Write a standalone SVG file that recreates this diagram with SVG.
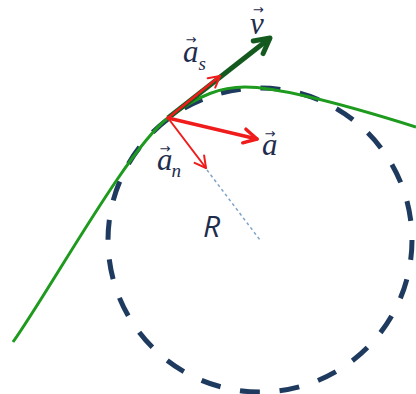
<svg xmlns="http://www.w3.org/2000/svg" width="416" height="394" viewBox="0 0 416 394">
<style>
.lbl{font-family:"Liberation Serif","DejaVu Serif",serif;font-style:italic;fill:#1f2d4d;font-size:31px}
.ar{font-style:normal;font-size:13px;font-family:"DejaVu Sans","Liberation Sans",sans-serif}
.sub{font-size:19px}
.red{fill:none;stroke:#f01c1c;stroke-linecap:round;stroke-linejoin:round}
</style>
<defs>
<marker id="hThin" markerUnits="userSpaceOnUse" markerWidth="30" markerHeight="30" viewBox="-15 -15 30 30" refX="0" refY="0" orient="auto" overflow="visible"><path d="M-11,-6 L0,0 L-11,6" fill="none" stroke="#f01c1c" stroke-width="2" stroke-linecap="round" stroke-linejoin="round"/></marker>
<marker id="hThick" markerUnits="userSpaceOnUse" markerWidth="30" markerHeight="30" viewBox="-15 -15 30 30" refX="0" refY="0" orient="auto" overflow="visible"><path d="M-13,-7 L0,0 L-13,7" fill="none" stroke="#f01c1c" stroke-width="3.5" stroke-linecap="round" stroke-linejoin="round"/></marker>
<marker id="hV" markerUnits="userSpaceOnUse" markerWidth="40" markerHeight="40" viewBox="-20 -20 40 40" refX="0" refY="0" orient="auto" overflow="visible"><path d="M-15,-8 L0,0 L-15,8" fill="none" stroke="#145a1e" stroke-width="5" stroke-linecap="round" stroke-linejoin="round"/></marker>
</defs>
<g id="circle">
<circle cx="260" cy="240" r="152" fill="none" stroke="#1f3a5f" stroke-width="5" stroke-dasharray="20 19.8"/>
</g>
<g id="curve">
<path d="M13,342 C50,290 128,148 168,118 C200,94 222,87 245,87 C275,87 330,100 416,127" fill="none" stroke="#1e9a1e" stroke-width="3"/>
</g>
<g id="connectors">
<line id="radius" x1="207" y1="170" x2="260" y2="240" stroke="#7fa3c8" stroke-width="1.5" stroke-dasharray="3 3"/>
<line id="v" x1="168" y1="118" x2="270" y2="38" stroke="#145a1e" stroke-width="5" marker-end="url(#hV)"/>
<line id="as" class="red" x1="168" y1="118" x2="220" y2="76" stroke-width="2.5" marker-end="url(#hThin)"/>
<line id="a" class="red" x1="168" y1="118" x2="257" y2="139" stroke-width="3.5" marker-end="url(#hThick)"/>
<line id="an" class="red" x1="168" y1="118" x2="206" y2="168" stroke-width="2" marker-end="url(#hThin)"/>
</g>
<g id="labels">
<text class="lbl" x="250" y="34">v<tspan class="ar" dx="-11" dy="-20">→</tspan></text>
<text class="lbl" x="183" y="62">a<tspan class="ar" dx="-13" dy="-18">→</tspan><tspan class="sub" dx="2" dy="26">s</tspan></text>
<text class="lbl" x="262" y="155">a<tspan class="ar" dx="-13" dy="-17">→</tspan></text>
<text class="lbl" x="157" y="170">a<tspan class="ar" dx="-13" dy="-17">→</tspan><tspan class="sub" dx="1" dy="24">n</tspan></text>
<text x="203" y="237" font-family="'Open Sans','DejaVu Sans',sans-serif" font-style="italic" font-size="30" fill="#1f2d4d">R</text>
</g>
</svg>
